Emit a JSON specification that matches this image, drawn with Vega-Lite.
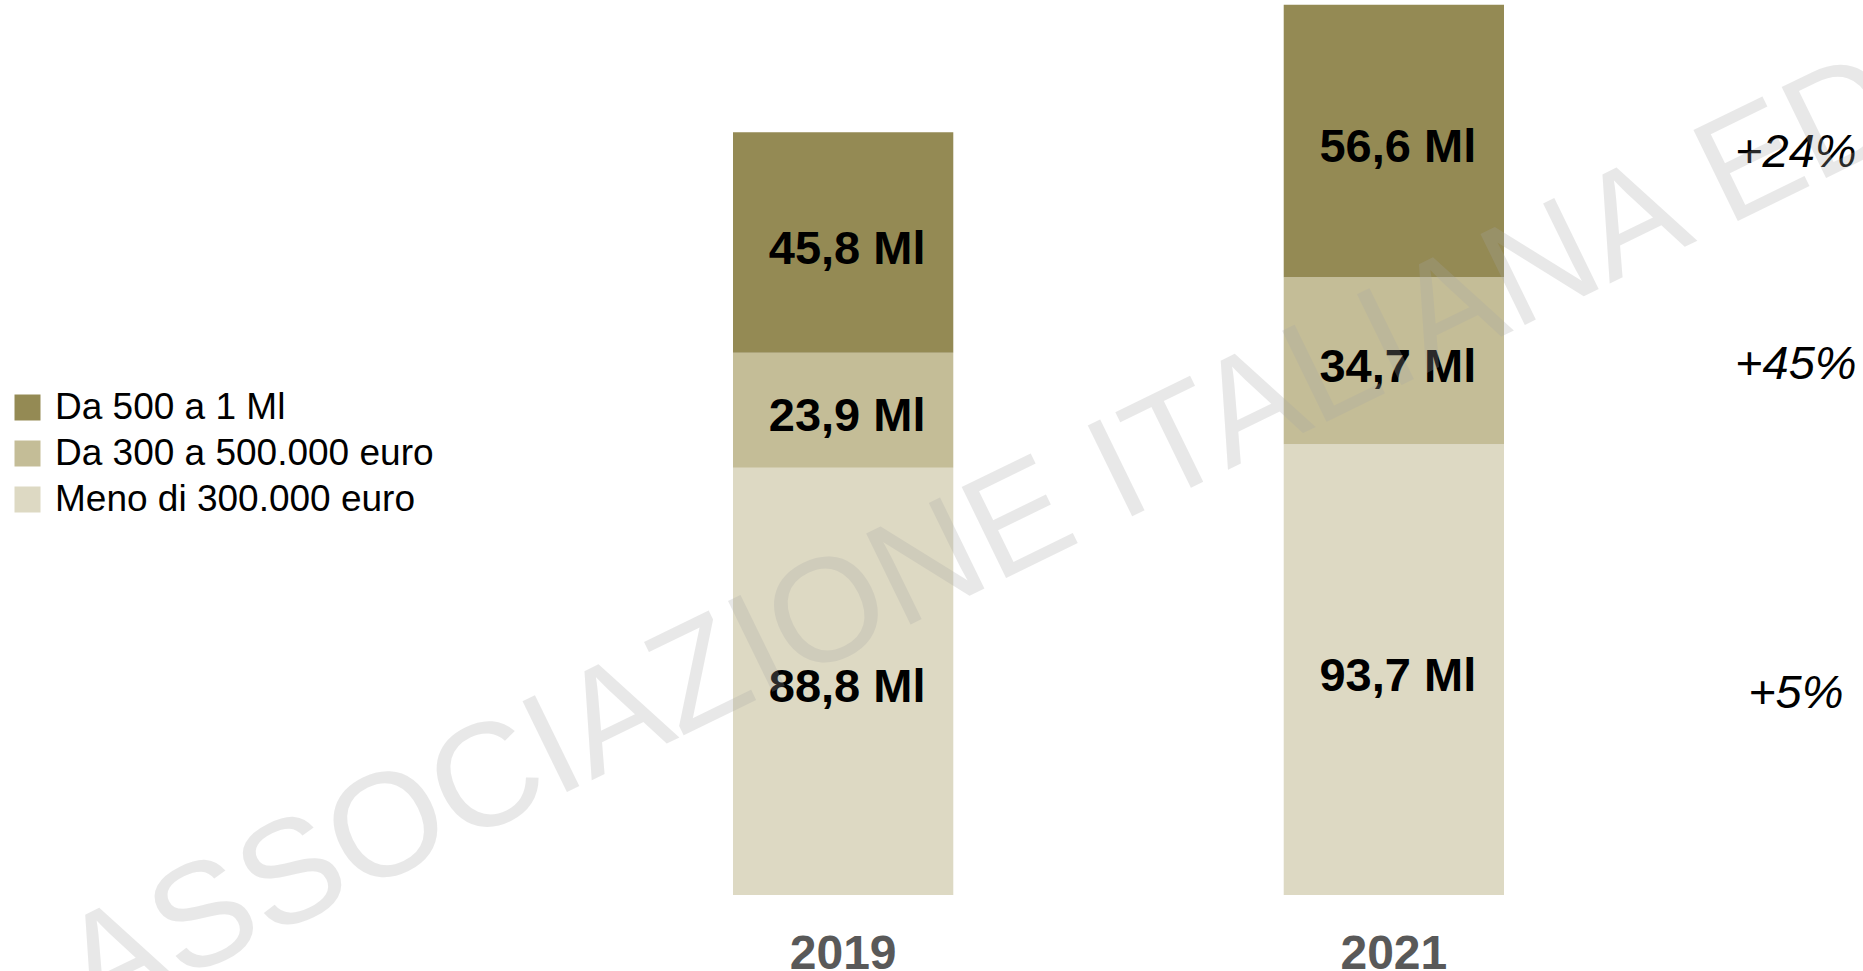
{
  "$schema": "https://vega.github.io/schema/vega-lite/v6.json",
  "width": 1863,
  "height": 895,
  "autosize": {"type": "none"},
  "padding": {"left": 0, "top": 0, "right": 0, "bottom": 76},
  "background": "#ffffff",
  "config": {
    "view": {"stroke": null},
    "font": "Liberation Sans"
  },
  "datasets": {
    "valori": [
      {"anno": "2019", "fascia": "Meno di 300.000 euro", "valore": 88.8, "etichetta": "88,8 Ml", "ordine": 1},
      {"anno": "2019", "fascia": "Da 300 a 500.000 euro", "valore": 23.9, "etichetta": "23,9 Ml", "ordine": 2},
      {"anno": "2019", "fascia": "Da 500 a 1 Ml", "valore": 45.8, "etichetta": "45,8 Ml", "ordine": 3},
      {"anno": "2021", "fascia": "Meno di 300.000 euro", "valore": 93.7, "etichetta": "93,7 Ml", "ordine": 1, "variazione": "+5%"},
      {"anno": "2021", "fascia": "Da 300 a 500.000 euro", "valore": 34.7, "etichetta": "34,7 Ml", "ordine": 2, "variazione": "+45%"},
      {"anno": "2021", "fascia": "Da 500 a 1 Ml", "valore": 56.6, "etichetta": "56,6 Ml", "ordine": 3, "variazione": "+24%"}
    ],
    "filigrana": [
      {"testo": "ASSOCIAZIONE ITALIANA EDITORI"}
    ]
  },
  "data": {"name": "valori"},
  "encoding": {
    "x": {
      "field": "anno",
      "type": "nominal",
      "scale": {"domain": ["2019", "2021"], "range": [733, 1504], "paddingInner": 0.6, "paddingOuter": 0},
      "axis": {
        "title": null,
        "domain": false,
        "ticks": false,
        "tickSize": 0,
        "labelAngle": 0,
        "labelFont": "Liberation Sans",
        "labelFontSize": 48,
        "labelFontWeight": "bold",
        "labelColor": "#595959",
        "labelBaseline": "alphabetic",
        "labelPadding": 73,
        "grid": false
      }
    }
  },
  "layer": [
    {
      "mark": {"type": "bar"},
      "encoding": {
        "y": {
          "field": "valore",
          "type": "quantitative",
          "stack": "zero",
          "scale": {"domain": [0, 186], "nice": false, "zero": true},
          "axis": null
        },
        "order": {"field": "ordine", "type": "quantitative"},
        "color": {
          "field": "fascia",
          "type": "nominal",
          "scale": {
            "domain": ["Da 500 a 1 Ml", "Da 300 a 500.000 euro", "Meno di 300.000 euro"],
            "range": ["#948A54", "#C4BD97", "#DDD9C3"]
          },
          "legend": {
            "title": null,
            "orient": "none",
            "legendX": 9,
            "legendY": 389,
            "padding": 0,
            "symbolType": "square",
            "symbolSize": 676,
            "symbolStrokeWidth": 0,
            "labelFont": "Liberation Sans",
            "labelFontSize": 37,
            "labelColor": "#000000",
            "labelOffset": 9,
            "rowPadding": 8,
            "labelLimit": 600
          }
        }
      }
    },
    {
      "mark": {"type": "text", "font": "Liberation Sans", "fontSize": 47, "fontWeight": "bold", "color": "#000000", "baseline": "middle", "align": "center", "dx": 4, "dy": 7},
      "encoding": {
        "y": {"field": "valore", "type": "quantitative", "stack": "zero", "bandPosition": 0.5},
        "order": {"field": "ordine", "type": "quantitative"},
        "text": {"field": "etichetta", "type": "nominal"}
      }
    },
    {
      "transform": [{"filter": "datum.anno === '2021'"}],
      "mark": {"type": "text", "font": "Liberation Sans", "fontSize": 47, "fontStyle": "italic", "color": "#000000", "baseline": "middle", "align": "center", "dx": 402, "dy": -7},
      "encoding": {
        "y": {"field": "valore", "type": "quantitative", "stack": "zero", "bandPosition": 0.43},
        "order": {"field": "ordine", "type": "quantitative"},
        "text": {"field": "variazione", "type": "nominal"}
      }
    },
    {
      "data": {"name": "filigrana"},
      "mark": {"type": "text", "font": "Liberation Sans", "fontSize": 147, "angle": -26, "color": "#A6A6A6", "opacity": 0.25, "align": "center", "baseline": "alphabetic", "dx": -242},
      "encoding": {
        "x": {"datum": "2021", "type": "nominal"},
        "y": {"datum": 105.2, "type": "quantitative"},
        "text": {"field": "testo", "type": "nominal"}
      }
    }
  ]
}
